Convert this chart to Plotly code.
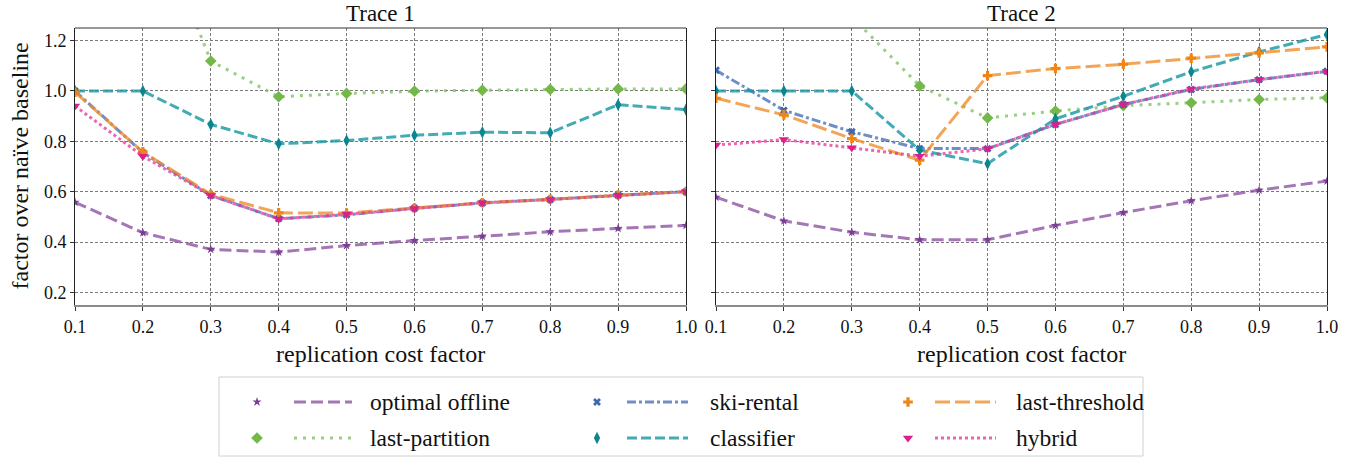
import plotly.graph_objects as go

W, H = 1350, 459

x_vals = [0.1, 0.2, 0.3, 0.4, 0.5, 0.6, 0.7, 0.8, 0.9, 1.0]
x_ticks = ["0.1", "0.2", "0.3", "0.4", "0.5", "0.6", "0.7", "0.8", "0.9", "1.0"]
y_tickvals = [0.2, 0.4, 0.6, 0.8, 1.0, 1.2]
y_ticks = ["0.2", "0.4", "0.6", "0.8", "1.0", "1.2"]
panel_titles = ["Trace 1", "Trace 2"]
x_title = "replication cost factor"
y_title = "factor over naïve baseline"

series_names = ["optimal offline", "last-partition", "ski-rental", "classifier", "last-threshold", "hybrid"]

t1_optimal = [0.558, 0.437, 0.371, 0.360, 0.386, 0.406, 0.423, 0.441, 0.454, 0.466]
t1_last_partition = [2.60, 1.80, 1.119, 0.977, 0.990, 0.999, 1.003, 1.006, 1.008, 1.008]
t1_ski_rental = [1.0, 0.755, 0.585, 0.493, 0.508, 0.534, 0.555, 0.569, 0.586, 0.600]
t1_classifier = [1.0, 1.0, 0.867, 0.790, 0.803, 0.824, 0.836, 0.834, 0.945, 0.926]
t1_last_threshold = [0.995, 0.758, 0.590, 0.516, 0.515, 0.535, 0.556, 0.570, 0.587, 0.601]
t1_hybrid = [0.940, 0.741, 0.585, 0.492, 0.510, 0.533, 0.556, 0.569, 0.586, 0.600]

t2_optimal = [0.578, 0.484, 0.439, 0.409, 0.409, 0.466, 0.517, 0.564, 0.606, 0.642]
t2_last_partition = [2.50, 1.90, 1.295, 1.020, 0.893, 0.920, 0.942, 0.953, 0.966, 0.973]
t2_ski_rental = [1.082, 0.923, 0.838, 0.771, 0.771, 0.867, 0.946, 1.006, 1.045, 1.078]
t2_classifier = [1.0, 1.0, 1.0, 0.765, 0.711, 0.889, 0.979, 1.076, 1.155, 1.224]
t2_last_threshold = [0.971, 0.905, 0.811, 0.725, 1.061, 1.089, 1.106, 1.130, 1.151, 1.175]
t2_hybrid = [0.785, 0.807, 0.774, 0.741, 0.770, 0.867, 0.946, 1.008, 1.045, 1.078]

trace1 = [t1_optimal, t1_last_partition, t1_ski_rental, t1_classifier, t1_last_threshold, t1_hybrid]
trace2 = [t2_optimal, t2_last_partition, t2_ski_rental, t2_classifier, t2_last_threshold, t2_hybrid]

# styles: (line colour, marker colour, dash, marker symbol, marker size)
styles = [
    ("rgba(140,80,160,0.78)", "#7a3d92", "12px,5px", "star", 7),
    ("rgba(120,190,85,0.75)", "#74b84a", "3px,6px", "diamond", 9),
    ("rgba(70,110,185,0.78)", "#3f68b0", "9px,3px,3px,3px", "x", 7),
    ("rgba(20,150,160,0.80)", "#0b858f", "10px,4px", "diamond-tall", 9),
    ("rgba(240,140,40,0.78)", "#ee8516", "15px,5px", "cross", 8),
    ("rgba(230,50,150,0.75)", "#dd1f8a", "3px,3px", "triangle-down", 9),
]

FONT = "'Liberation Serif', 'DejaVu Serif', serif"
BIG = 24
TICK = 18

fig = go.Figure()

px = lambda v: v / W
py = lambda v: 1 - v / H

panels = [(75, 686), (716, 1327)]
top_px, bot_px = 28, 305

for pi, data in enumerate([trace1, trace2]):
    xa = "x" if pi == 0 else "x2"
    ya = "y" if pi == 0 else "y2"
    for si, vals in enumerate(data):
        lc, mc, dash, sym, ms = styles[si]
        fig.add_trace(go.Scatter(
            x=x_vals, y=vals, xaxis=xa, yaxis=ya, mode="lines+markers",
            line=dict(color=lc, width=3, dash=dash),
            marker=dict(color=mc, symbol=sym, size=ms, line=dict(width=0)),
            name=series_names[si], showlegend=False, cliponaxis=True,
        ))

axis_common = dict(
    showgrid=True, gridcolor="#7a7a7a", griddash="3px,2px", gridwidth=1,
    zeroline=False, ticks="outside", ticklen=4, tickcolor="#333",
    tickfont=dict(family=FONT, size=TICK, color="#111"), automargin=False,
)

for pi, (l, r) in enumerate(panels):
    sfx = "" if pi == 0 else "2"
    fig.update_layout(**{
        "xaxis" + sfx: dict(
            domain=[px(l), px(r)], range=[0.1, 1.0], anchor="y" + sfx,
            tickvals=x_vals, ticktext=x_ticks,
            showline=True, linecolor="#8c8c8c", linewidth=2,
            **axis_common),
        "yaxis" + sfx: dict(
            domain=[py(bot_px), py(top_px)], range=[0.15, 1.25], anchor="x" + sfx,
            tickvals=y_tickvals, ticktext=y_ticks if pi == 0 else [""] * 6,
            showline=True, linecolor="#222", linewidth=1, mirror=True,
            **axis_common),
    })
    fig.add_shape(type="line", xref="paper", yref="paper",
                  x0=px(l), x1=px(r), y0=py(top_px), y1=py(top_px),
                  line=dict(color="#333", width=1))
    fig.add_annotation(text=panel_titles[pi], xref="paper", yref="paper",
                       x=px((l + r) / 2), y=py(13), xanchor="center", yanchor="middle",
                       showarrow=False, font=dict(family=FONT, size=BIG - 1, color="#111"))
    fig.add_annotation(text=x_title, xref="paper", yref="paper",
                       x=px((l + r) / 2), y=py(354), xanchor="center", yanchor="middle",
                       showarrow=False, font=dict(family=FONT, size=BIG, color="#111"))

fig.add_annotation(text=y_title, xref="paper", yref="paper", textangle=-90,
                   x=px(19), y=py((top_px + bot_px) / 2), xanchor="center", yanchor="middle",
                   showarrow=False, font=dict(family=FONT, size=BIG, color="#111"))

# ---- legend (helper axis spanning the legend box, pixel units) ----
lx0, lx1, ly0, ly1 = 219, 1143, 377, 456
fig.add_shape(type="rect", xref="paper", yref="paper",
              x0=px(lx0), x1=px(lx1), y0=py(ly1), y1=py(ly0),
              line=dict(color="#d0d0d0", width=1), fillcolor="white", layer="below")
fig.update_layout(
    xaxis3=dict(domain=[px(lx0), px(lx1)], range=[lx0, lx1], visible=False, anchor="y3",
                fixedrange=True, automargin=False),
    yaxis3=dict(domain=[py(ly1), py(ly0)], range=[ly1, ly0], visible=False, anchor="x3",
                fixedrange=True, automargin=False),
)
col_marker = [257, 597, 908]
col_line = [(294, 352), (627, 688), (935, 996)]
col_text = [368, 708, 1014]
row_y = [402, 438]
for si in range(6):
    c, r = si // 2, si % 2
    lc, mc, dash, sym, ms = styles[si]
    fig.add_trace(go.Scatter(x=[col_marker[c]], y=[row_y[r]], xaxis="x3", yaxis="y3",
                             mode="markers", showlegend=False,
                             marker=dict(color=mc, symbol=sym, size=ms, line=dict(width=0))))
    fig.add_trace(go.Scatter(x=list(col_line[c]), y=[row_y[r], row_y[r]], xaxis="x3", yaxis="y3",
                             mode="lines", showlegend=False,
                             line=dict(color=lc, width=3, dash=dash)))
    fig.add_annotation(text=series_names[si], xref="x3", yref="y3", x=col_text[c], y=row_y[r],
                       xanchor="left", yanchor="middle", showarrow=False,
                       font=dict(family=FONT, size=BIG - 0.5, color="#111"))

fig.update_layout(
    width=W, height=H, margin=dict(l=0, r=0, t=0, b=0, autoexpand=False),
    paper_bgcolor="white", plot_bgcolor="white", showlegend=False,
    font=dict(family=FONT, color="#111"),
)

fig.write_html(
    "out.html",
    config={"displayModeBar": False},
    post_script="document.body.style.margin='0';document.body.style.padding='0';"
                "document.body.style.overflow='hidden';",
)
